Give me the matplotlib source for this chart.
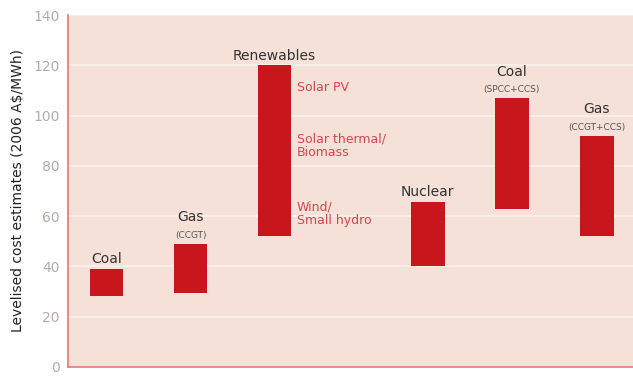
import matplotlib.pyplot as plt

# Levelised cost ranges (2006 A$/MWh)
techs = ['Coal', 'Gas', 'Renewables', 'Nuclear', 'Coal', 'Gas']
subs = ['', '(CCGT)', '', '', '(SPCC+CCS)', '(CCGT+CCS)']
low = [28, 29.5, 52, 40, 63, 52]
high = [39, 49, 120, 65.5, 107, 92]

# sub-labels beside the renewables bar
renew_labels = ['Solar PV', 'Solar thermal/\nBiomass', 'Wind/\nSmall hydro']
renew_levels = [111, 88, 61]

xpos = [0, 1, 2, 3.82, 4.82, 5.83]

plt.rcParams['font.family'] = ['DejaVu Sans']

fig = plt.figure(figsize=(6.33, 3.77), dpi=100)
ax = fig.add_axes([0.107, 0.027, 0.893, 0.933])
ax.set_facecolor('#f5e1d8')

bar_col = '#c8161d'
heights = [h - l for h, l in zip(high, low)]
ax.bar(xpos, heights, bottom=low, width=0.4, color=bar_col, zorder=3)

for x, t, s, h in zip(xpos, techs, subs, high):
    if s:
        ax.annotate(s, (x, h), xytext=(0, 3), textcoords='offset points',
                    ha='center', va='bottom', fontsize=6.5, color='#555555')
        ax.annotate(t, (x, h), xytext=(0, 14), textcoords='offset points',
                    ha='center', va='bottom', fontsize=10, color='#333333')
    else:
        ax.annotate(t, (x, h), xytext=(0, 2), textcoords='offset points',
                    ha='center', va='bottom', fontsize=10, color='#333333')

for lab, y in zip(renew_labels, renew_levels):
    ax.text(xpos[2] + 0.26, y, lab, ha='left', va='center', fontsize=9,
            color='#d5464f', linespacing=1.1)

ax.set_ylim(0, 140)
ax.set_xlim(-0.46, 6.26)
ax.set_yticks(range(0, 141, 20))
ax.set_xticks([])
ax.tick_params(axis='y', length=0, labelsize=10, labelcolor='#b5aaa8', pad=6)
ax.yaxis.grid(True, color='#fbf1ec', linewidth=1.2, zorder=0)
ax.set_axisbelow(True)

for side in ['top', 'right']:
    ax.spines[side].set_visible(False)
for side in ['left', 'bottom']:
    ax.spines[side].set_color('#e07a7a')
    ax.spines[side].set_linewidth(1.2)

ax.set_ylabel('Levelised cost estimates (2006 A$/MWh)', fontsize=10,
              color='#222222', labelpad=6)

fig.savefig('out.png', dpi=100)
